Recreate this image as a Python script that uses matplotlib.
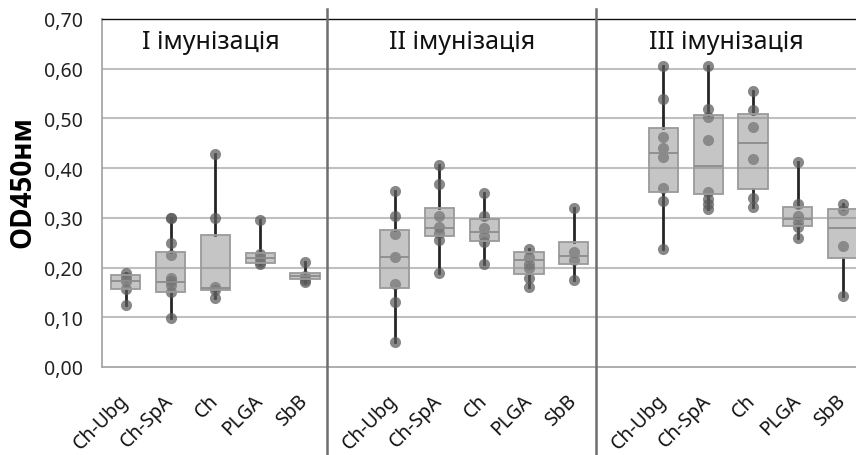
import matplotlib
matplotlib.use("Agg")
import matplotlib.pyplot as plt
import numpy as np

plt.rcParams['font.family'] = ['Noto Sans', 'DejaVu Sans']

group_titles = ["I імунізація", "II імунізація", "III імунізація"]
categories = ["Ch-Ubg", "Ch-SpA", "Ch", "PLGA", "SbB"]

# box statistics per group: (q1, median, q3, whisker low, whisker high)
g1_stats = [(0.157, 0.172, 0.186, 0.125, 0.190),
            (0.151, 0.171, 0.231, 0.099, 0.299),
            (0.154, 0.158, 0.266, 0.138, 0.428),
            (0.209, 0.220, 0.229, 0.208, 0.296),
            (0.178, 0.183, 0.189, 0.170, 0.212)]
g2_stats = [(0.158, 0.221, 0.276, 0.050, 0.354),
            (0.264, 0.280, 0.319, 0.190, 0.406),
            (0.254, 0.271, 0.298, 0.207, 0.351),
            (0.187, 0.215, 0.231, 0.161, 0.237),
            (0.207, 0.224, 0.252, 0.175, 0.319)]
g3_stats = [(0.352, 0.431, 0.481, 0.237, 0.605),
            (0.347, 0.405, 0.506, 0.318, 0.605),
            (0.358, 0.450, 0.508, 0.321, 0.556),
            (0.283, 0.297, 0.322, 0.259, 0.412),
            (0.220, 0.280, 0.317, 0.142, 0.327)]

# individual measurements
g1_points = [[0.190, 0.181, 0.172, 0.157, 0.125],
             [0.299, 0.299, 0.249, 0.225, 0.180, 0.172, 0.164, 0.150, 0.099],
             [0.428, 0.299, 0.160, 0.154, 0.139],
             [0.296, 0.228, 0.220, 0.212, 0.208],
             [0.212, 0.183, 0.175, 0.170]]
g2_points = [[0.354, 0.304, 0.268, 0.221, 0.167, 0.130, 0.050],
             [0.406, 0.368, 0.304, 0.282, 0.269, 0.256, 0.190],
             [0.351, 0.304, 0.280, 0.264, 0.251, 0.207],
             [0.237, 0.221, 0.207, 0.200, 0.179, 0.161],
             [0.319, 0.231, 0.215, 0.175]]
g3_points = [[0.605, 0.539, 0.463, 0.441, 0.422, 0.360, 0.333, 0.237],
             [0.605, 0.519, 0.502, 0.457, 0.353, 0.338, 0.327, 0.318],
             [0.556, 0.517, 0.482, 0.418, 0.339, 0.321],
             [0.412, 0.328, 0.304, 0.292, 0.281, 0.260],
             [0.327, 0.315, 0.244, 0.142]]

y_ticks = [0.0, 0.1, 0.2, 0.3, 0.4, 0.5, 0.6, 0.7]
y_ticklabels = ["0,00", "0,10", "0,20", "0,30", "0,40", "0,50", "0,60", "0,70"]
y_label = "OD450нм"

all_stats = [g1_stats, g2_stats, g3_stats]
all_points = [g1_points, g2_points, g3_points]

fig = plt.figure(figsize=(8.56, 4.56), dpi=100)
ax = fig.add_axes([102/856, 88/456, 754/856, 348/456])

positions = []
labels = []
stats = []
points = []
for g in range(3):
    for i, cat in enumerate(categories):
        positions.append(g * 6 + i)
        labels.append(cat)
        q1, med, q3, lo, hi = all_stats[g][i]
        stats.append(dict(q1=q1, med=med, q3=q3, whislo=lo, whishi=hi, fliers=[], label=cat))
        points.append(all_points[g][i])

# gridlines
for yv in y_ticks[1:-1]:
    ax.axhline(yv, color='#c0c0c0', lw=1.5, zorder=0)

ax.bxp(stats, positions=positions, widths=0.65, patch_artist=True,
       showfliers=False, showcaps=False,
       boxprops=dict(facecolor=(0.55, 0.55, 0.55, 0.5), edgecolor='#9a9a9a', linewidth=1.3, zorder=3),
       whiskerprops=dict(color='#262626', linewidth=2.0, zorder=1),
       medianprops=dict(color='#8c8c8c', linewidth=1.3, zorder=4))

for p, vals in zip(positions, points):
    ax.plot([p] * len(vals), vals, 'o', ms=8, color='#5a5a5a', alpha=0.72,
            markeredgewidth=0, zorder=2)

ax.set_xlim(-0.53, 16.3)
ax.set_ylim(0, 0.7)
ax.set_yticks(y_ticks)
ax.set_yticklabels(y_ticklabels, fontsize=14, color='#222222')
ax.set_xticks(positions)
ax.set_xticklabels(labels, fontsize=14, rotation=45, ha='right', va='center',
                   rotation_mode='anchor', color='#111111')
ax.tick_params(axis='y', length=0, pad=14)
ax.tick_params(axis='x', length=0, pad=22)
ax.set_ylabel(y_label, fontsize=20, fontweight='bold',
              family=['Open Sans', 'Liberation Sans', 'DejaVu Sans'])
ax.yaxis.label.set_va('center')
ax.yaxis.set_label_coords(-79/754, 0.534)

for s in ['left', 'bottom']:
    ax.spines[s].set_color('#a0a0a0')
    ax.spines[s].set_linewidth(1.2)
ax.spines['right'].set_visible(False)
ax.spines['top'].set_color('#111111')
ax.spines['top'].set_linewidth(1.0)

for xs in [4.5, 10.5]:
    ax.axvline(xs, ymin=-0.26, ymax=1.03, color='#6e6e6e', lw=1.8, clip_on=False, zorder=5)

title_x = [1.9, 7.5, 13.4]
for tx, t in zip(title_x, group_titles):
    ax.text(tx, 0.655, t, fontsize=18, ha='center', va='center', color='#111111')

fig.savefig("out.png", dpi=100)
